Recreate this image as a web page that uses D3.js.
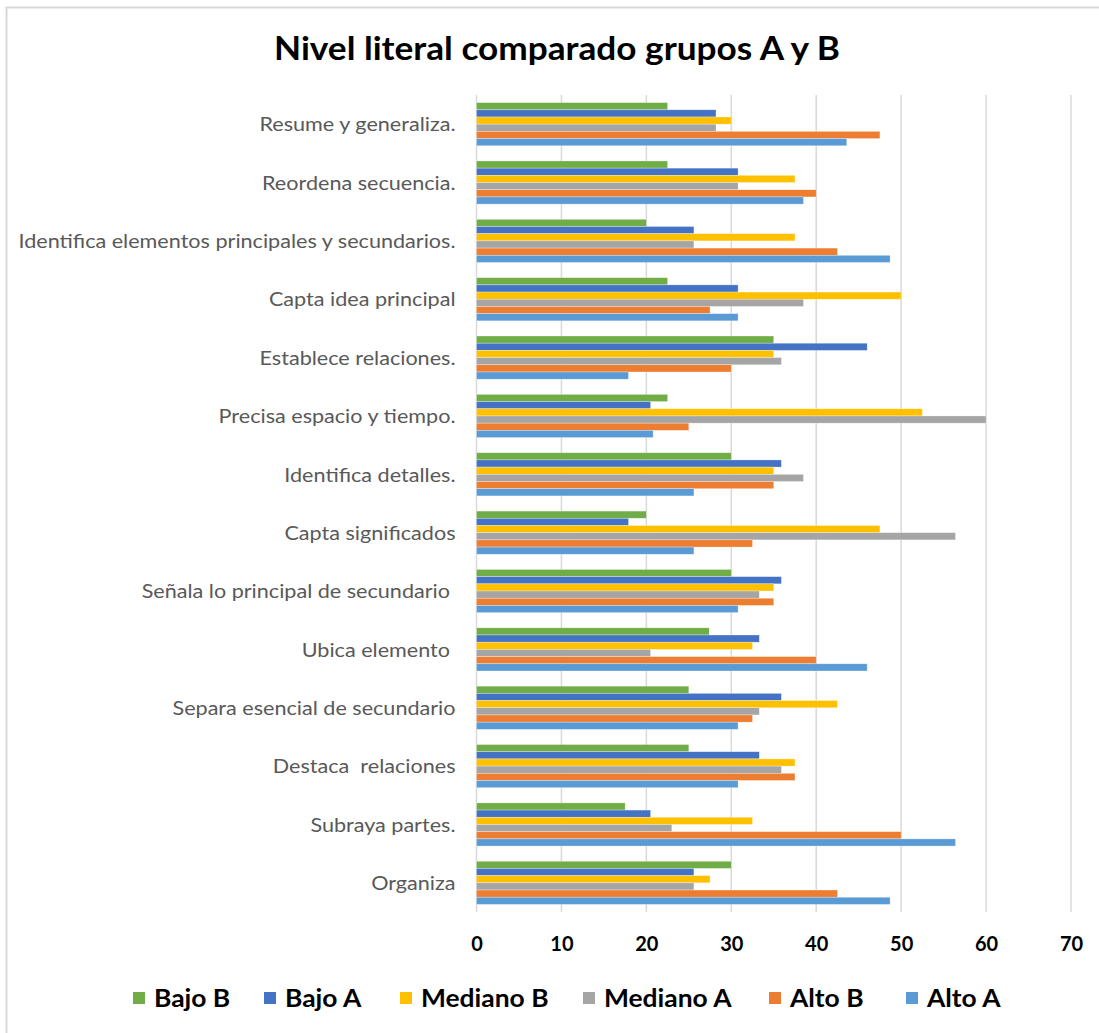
<!DOCTYPE html>
<html>
<head>
<meta charset="utf-8">
<script src="https://cdn.jsdelivr.net/npm/d3@7"></script>
<style>
  body { margin: 0; background: #fff; }
  text { font-family: Lato, "Open Sans", sans-serif; }
</style>
</head>
<body>
<div id="chart"></div>
<script>
const categories = [
  "Resume y generaliza.",
  "Reordena secuencia.",
  "Identifica elementos principales y secundarios.",
  "Capta idea principal",
  "Establece relaciones.",
  "Precisa espacio y tiempo.",
  "Identifica detalles.",
  "Capta significados",
  "Señala lo principal de secundario ",
  "Ubica elemento ",
  "Separa esencial de secundario",
  "Destaca  relaciones",
  "Subraya partes.",
  "Organiza"
];

const seriesNames = ["Bajo B", "Bajo A", "Mediano B", "Mediano A", "Alto B", "Alto A"];
const seriesColors = ["#70AD47", "#4472C4", "#FFC000", "#A5A5A5", "#ED7D31", "#5B9BD5"];

const bajoB    = [22.5, 22.5, 20,   22.5, 35,   22.5, 30,   20,   30,   27.4, 25,   25,   17.5, 30];
const bajoA    = [28.2, 30.8, 25.6, 30.8, 46,   20.5, 35.9, 17.9, 35.9, 33.3, 35.9, 33.3, 20.5, 25.6];
const medianoB = [30,   37.5, 37.5, 50,   35,   52.5, 35,   47.5, 35,   32.5, 42.5, 37.5, 32.5, 27.5];
const medianoA = [28.2, 30.8, 25.6, 38.5, 35.9, 60,   38.5, 56.4, 33.3, 20.5, 33.3, 35.9, 23,   25.6];
const altoB    = [47.5, 40,   42.5, 27.5, 30,   25,   35,   32.5, 35,   40,   32.5, 37.5, 50,   42.5];
const altoA    = [43.6, 38.5, 48.7, 30.8, 17.9, 20.8, 25.6, 25.6, 30.8, 46,   30.8, 30.8, 56.4, 48.7];

const xTicks = [0, 10, 20, 30, 40, 50, 60, 70];
const title = "Nivel literal comparado grupos A y B";

const seriesValues = [bajoB, bajoA, medianoB, medianoA, altoB, altoA];

const width = 1099;
const height = 1033;
const marginLeft = 476.5;
const marginRight = 28;
const marginTop = 95;
const marginBottom = 121;

const svg = d3.select("#chart")
  .append("svg")
    .attr("width", width)
    .attr("height", height);

// chart border
svg.append("rect")
  .attr("x", 6.5).attr("y", 7.5)
  .attr("width", width + 20).attr("height", height + 20)
  .attr("fill", "#fff")
  .attr("stroke", "#D9D9D9")
  .attr("stroke-width", 2);

const x = d3.scaleLinear()
  .domain([0, 70])
  .range([marginLeft, width - marginRight]);

const y = d3.scaleBand()
  .domain(categories)
  .range([marginTop, height - marginBottom])
  .paddingInner(0.26)
  .paddingOuter(0.13);

const ySub = d3.scaleBand()
  .domain(seriesNames)
  .range([0, y.bandwidth()]);

// gridlines
svg.append("g")
  .selectAll("line")
  .data(xTicks)
  .join("line")
    .attr("x1", d => x(d)).attr("x2", d => x(d))
    .attr("y1", marginTop).attr("y2", height - marginBottom)
    .attr("stroke", "#D9D9D9")
    .attr("stroke-width", 1.5);

// bars
const groups = svg.append("g")
  .selectAll("g")
  .data(categories)
  .join("g")
    .attr("transform", d => `translate(0,${y(d)})`);

groups.selectAll("rect")
  .data((c, i) => seriesNames.map((s, j) => ({ s, j, v: seriesValues[j][i] })))
  .join("rect")
    .attr("x", x(0))
    .attr("y", d => ySub(d.s))
    .attr("width", d => x(d.v) - x(0))
    .attr("height", ySub.bandwidth())
    .attr("fill", d => seriesColors[d.j])
    .attr("stroke", "#fff")
    .attr("stroke-opacity", 0.5)
    .attr("stroke-width", 0.6);

// category labels (text a bit wider than Lato, like the original Calibri render)
svg.append("g")
  .selectAll("g")
  .data(categories)
  .join("g")
    .attr("transform", d => `translate(${x(0) - 21},${y(d) + y.bandwidth() / 2})`)
  .append("text")
    .attr("transform", "scale(1.08,1)")
    .attr("text-anchor", "end")
    .attr("dy", "0.36em")
    .attr("fill", "#595959")
    .attr("font-size", 20)
    .style("white-space", "pre")
    .text(d => d);

// x axis labels
const xAxis = svg.append("g")
  .attr("transform", `translate(0,${height - marginBottom})`)
  .call(d3.axisBottom(x).tickValues(xTicks).tickSize(0).tickPadding(25));
xAxis.select(".domain").remove();
xAxis.selectAll("text")
  .attr("fill", "#000")
  .attr("font-size", 20)
  .attr("font-weight", "bold")
  .attr("font-family", "Lato, sans-serif");

// title
svg.append("g")
  .attr("transform", "translate(557,60)")
  .append("text")
    .attr("transform", "scale(1.1,1)")
    .attr("text-anchor", "middle")
    .attr("font-size", 32)
    .attr("font-weight", "bold")
    .attr("fill", "#000")
    .text(title);

// legend
const legendX = [133, 264, 400, 583, 769, 906];
const legend = svg.append("g")
  .selectAll("g")
  .data(seriesNames)
  .join("g")
    .attr("transform", (d, i) => `translate(${legendX[i]},992)`);
legend.append("rect")
  .attr("width", 12).attr("height", 12)
  .attr("fill", (d, i) => seriesColors[i]);
legend.append("text")
  .attr("transform", "translate(21,15) scale(1.1,1)")
  .attr("font-size", 24)
  .attr("font-weight", "bold")
  .attr("fill", "#000")
  .text(d => d);
</script>
</body>
</html>
